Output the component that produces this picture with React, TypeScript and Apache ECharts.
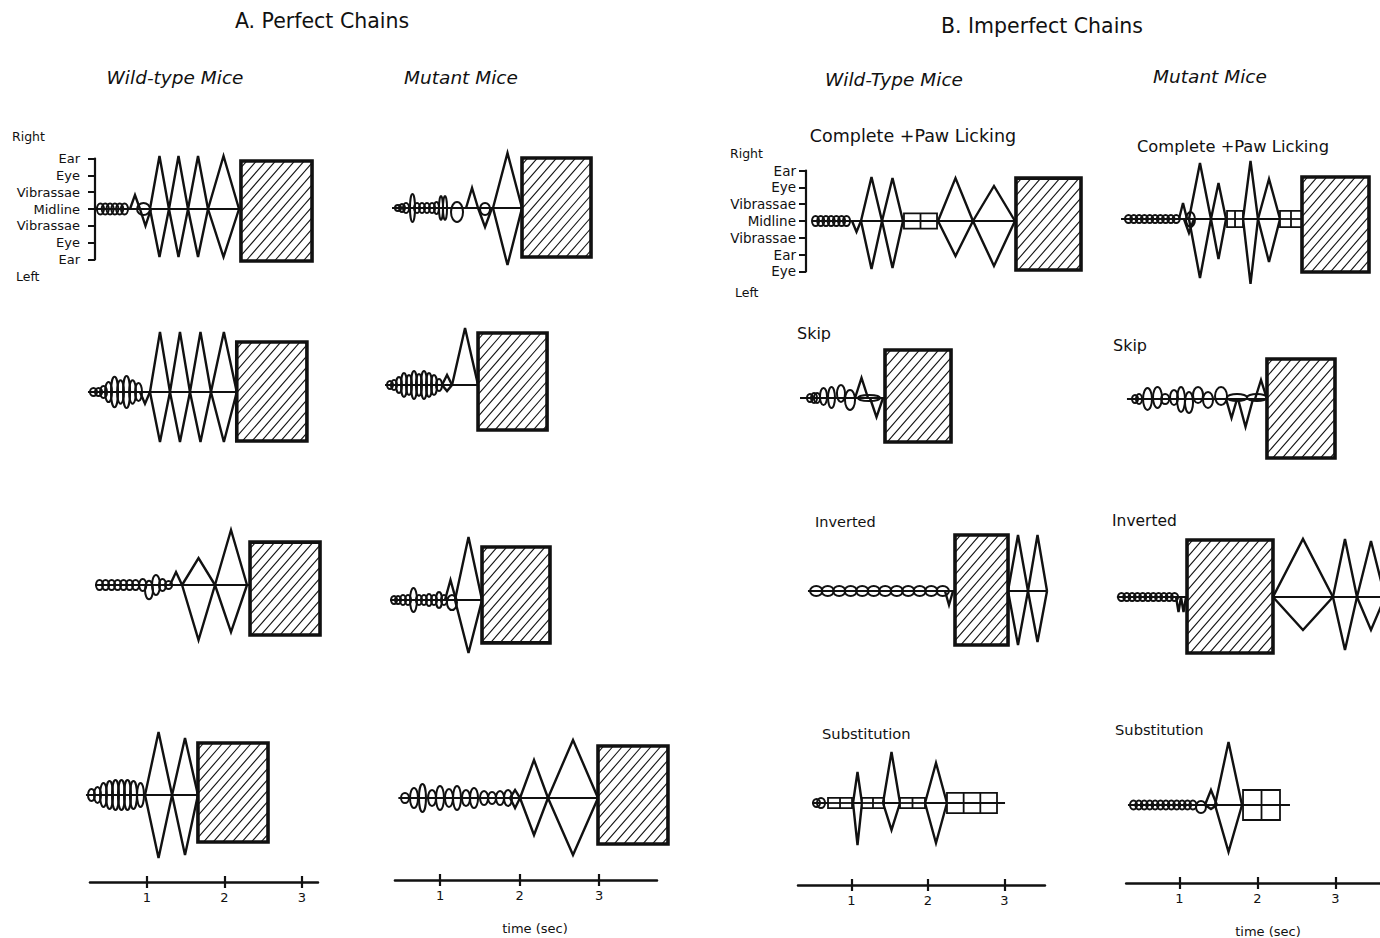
import React, { useEffect, useRef } from "react";
import * as echarts from "echarts";

// ---------- DATA (time in seconds, amplitudes in body-level units: 3 = Ear) ----------
// kinds: M = midline, L = loop (ellipse), T = flick triangle(s) up/down, R = grooming block (hatched), G = licking box grid
type Item = [string, number, number, number?, number?, number?];

const levelsA = ["Ear", "Eye", "Vibrassae", "Midline", "Vibrassae", "Eye", "Ear"];
const levelsB = ["Ear", "Eye", "Vibrassae", "Midline", "Vibrassae", "Ear", "Eye"];
const timeTicks = [1, 2, 3];

const perfectWild1: Item[] = [
  ["M", 0.332, 2.215],
  ["L", 0.357, 0.447, 0.33, 0.33], ["L", 0.419, 0.509, 0.33, 0.33], ["L", 0.481, 0.571, 0.33, 0.33],
  ["L", 0.543, 0.633, 0.33, 0.33], ["L", 0.605, 0.695, 0.33, 0.33], ["L", 0.667, 0.757, 0.33, 0.33],
  ["T", 0.783, 0.912, 0.83, 0],
  ["L", 0.874, 1.041, 0.36, 0.36],
  ["T", 0.912, 1.054, 0, 1.0],
  ["T", 1.041, 1.286, 3.15, 2.85], ["T", 1.286, 1.532, 3.15, 2.85],
  ["T", 1.532, 1.79, 3.15, 2.85], ["T", 1.79, 2.19, 3.15, 2.85],
  ["R", 2.215, 3.132, 2.85, 3.09],
];
const perfectWild2: Item[] = [
  ["M", 0.241, 2.161],
  ["L", 0.267, 0.357, 0.24, 0.24], ["L", 0.332, 0.423, 0.24, 0.24], ["L", 0.396, 0.487, 0.36, 0.36],
  ["L", 0.461, 0.551, 0.6, 0.6], ["L", 0.538, 0.629, 0.9, 0.9], ["L", 0.616, 0.706, 0.7, 0.7],
  ["L", 0.693, 0.784, 0.95, 0.95], ["L", 0.771, 0.861, 0.7, 0.7], ["L", 0.848, 0.938, 0.53, 0.53],
  ["T", 0.912, 1.041, 0, 0.7],
  ["T", 1.041, 1.299, 3.57, 2.97], ["T", 1.299, 1.557, 3.57, 2.97],
  ["T", 1.557, 1.828, 3.57, 2.97], ["T", 1.828, 2.161, 3.57, 2.97],
  ["R", 2.161, 3.066, 2.97, 2.91],
];
const perfectWild3: Item[] = [
  ["M", 0.332, 2.332],
  ["L", 0.345, 0.435, 0.3, 0.3], ["L", 0.423, 0.513, 0.3, 0.3], ["L", 0.501, 0.591, 0.3, 0.3],
  ["L", 0.578, 0.668, 0.3, 0.3], ["L", 0.655, 0.745, 0.3, 0.3], ["L", 0.733, 0.823, 0.3, 0.3],
  ["L", 0.81, 0.9, 0.3, 0.3],
  ["L", 0.901, 0.994, 0.36, 0.36], ["L", 0.977, 1.08, 0.25, 0.85], ["L", 1.067, 1.17, 0.6, 0.6],
  ["L", 1.157, 1.248, 0.36, 0.36], ["L", 1.235, 1.326, 0.24, 0.24],
  ["T", 1.299, 1.455, 0.77, 0],
  ["T", 1.455, 1.88, 1.6, 3.27], ["T", 1.88, 2.293, 3.27, 2.8],
  ["R", 2.332, 3.235, 2.55, 2.97],
];
const perfectWild4: Item[] = [
  ["M", 0.215, 1.66],
  ["L", 0.241, 0.331, 0.36, 0.36], ["L", 0.319, 0.409, 0.48, 0.48], ["L", 0.396, 0.486, 0.71, 0.71],
  ["L", 0.474, 0.564, 0.83, 0.83], ["L", 0.551, 0.641, 0.89, 0.89], ["L", 0.628, 0.718, 0.89, 0.89],
  ["L", 0.706, 0.796, 0.89, 0.89], ["L", 0.783, 0.873, 0.83, 0.83], ["L", 0.874, 0.964, 0.71, 0.71],
  ["T", 0.977, 1.326, 3.74, 3.74], ["T", 1.326, 1.66, 3.39, 3.57],
  ["R", 1.66, 2.564, 3.09, 2.79],
];

const perfectMutant1: Item[] = [
  ["M", 0.394, 2.029],
  ["L", 0.431, 0.507, 0.18, 0.18], ["L", 0.482, 0.557, 0.24, 0.24], ["L", 0.532, 0.608, 0.3, 0.3],
  ["L", 0.62, 0.683, 0.83, 0.83], ["L", 0.671, 0.746, 0.3, 0.3], ["L", 0.733, 0.809, 0.3, 0.3],
  ["L", 0.796, 0.871, 0.3, 0.3], ["L", 0.859, 0.935, 0.3, 0.3], ["L", 0.922, 0.985, 0.36, 0.36],
  ["L", 0.985, 1.035, 0.71, 0.71], ["L", 1.035, 1.086, 0.71, 0.71],
  ["L", 1.136, 1.287, 0.36, 0.83],
  ["T", 1.325, 1.476, 1.19, 0],
  ["L", 1.501, 1.627, 0.3, 0.42],
  ["T", 1.476, 1.652, 0, 1.13],
  ["T", 1.664, 2.029, 3.27, 3.39],
  ["R", 2.029, 2.897, 2.97, 2.91],
];
const perfectMutant2: Item[] = [
  ["M", 0.306, 1.476],
  ["L", 0.331, 0.406, 0.24, 0.24], ["L", 0.381, 0.457, 0.3, 0.3], ["L", 0.444, 0.519, 0.48, 0.48],
  ["L", 0.507, 0.582, 0.71, 0.71], ["L", 0.57, 0.645, 0.6, 0.6], ["L", 0.633, 0.708, 0.83, 0.83],
  ["L", 0.695, 0.771, 0.65, 0.65], ["L", 0.758, 0.834, 0.83, 0.83], ["L", 0.821, 0.897, 0.71, 0.71],
  ["L", 0.884, 0.96, 0.6, 0.6], ["L", 0.947, 1.023, 0.36, 0.36],
  ["T", 1.023, 1.149, 0.6, 0.36],
  ["T", 1.149, 1.476, 3.39, 0],
  ["R", 1.476, 2.344, 3.09, 2.67],
];
const perfectMutant3: Item[] = [
  ["M", 0.369, 1.526],
  ["L", 0.382, 0.457, 0.24, 0.24], ["L", 0.432, 0.507, 0.24, 0.24], ["L", 0.494, 0.57, 0.3, 0.3],
  ["L", 0.557, 0.633, 0.3, 0.3], ["L", 0.62, 0.708, 0.71, 0.71], ["L", 0.695, 0.771, 0.3, 0.3],
  ["L", 0.758, 0.834, 0.3, 0.3], ["L", 0.821, 0.897, 0.36, 0.36], ["L", 0.884, 0.96, 0.3, 0.3],
  ["L", 0.947, 1.023, 0.48, 0.48], ["L", 1.01, 1.085, 0.3, 0.3],
  ["T", 1.06, 1.199, 1.19, 0],
  ["L", 1.085, 1.211, 0.3, 0.6],
  ["T", 1.186, 1.526, 3.74, 3.15],
  ["R", 1.526, 2.381, 3.15, 2.55],
];
const perfectMutant4: Item[] = [
  ["M", 0.474, 2.985],
  ["L", 0.507, 0.607, 0.3, 0.3], ["L", 0.62, 0.721, 0.6, 0.6], ["L", 0.733, 0.821, 0.83, 0.83],
  ["L", 0.847, 0.947, 0.48, 0.48], ["L", 0.947, 1.048, 0.71, 0.71], ["L", 1.06, 1.161, 0.53, 0.53],
  ["L", 1.161, 1.262, 0.71, 0.71], ["L", 1.274, 1.375, 0.48, 0.48], ["L", 1.375, 1.476, 0.6, 0.6],
  ["L", 1.501, 1.602, 0.42, 0.42], ["L", 1.602, 1.702, 0.36, 0.36], ["L", 1.702, 1.803, 0.42, 0.42],
  ["L", 1.803, 1.903, 0.48, 0.48],
  ["T", 1.879, 2.004, 0.48, 0.6],
  ["T", 2.004, 2.356, 2.26, 2.2], ["T", 2.356, 2.985, 3.45, 3.39],
  ["R", 2.985, 3.865, 3.09, 2.73],
];

const completeWild: Item[] = [
  ["M", 0.484, 3.15],
  ["L", 0.484, 0.576, 0.3, 0.3], ["L", 0.552, 0.644, 0.3, 0.3], ["L", 0.62, 0.712, 0.3, 0.3],
  ["L", 0.688, 0.78, 0.3, 0.3], ["L", 0.756, 0.848, 0.3, 0.3], ["L", 0.824, 0.916, 0.3, 0.3],
  ["L", 0.889, 0.981, 0.3, 0.3],
  ["T", 1.007, 1.124, 0, 0.65],
  ["T", 1.124, 1.399, 2.61, 2.85], ["T", 1.399, 1.673, 2.55, 2.79],
  ["G", 1.686, 2.118, 0.45, 0.45, 2],
  ["T", 2.131, 2.588, 2.55, 2.08], ["T", 2.588, 3.137, 2.08, 2.67],
  ["R", 3.15, 4.0, 2.55, 2.91],
];
const skipWild: Item[] = [
  ["M", 0.327, 1.438],
  ["L", 0.418, 0.497, 0.24, 0.24], ["L", 0.471, 0.549, 0.3, 0.3], ["L", 0.51, 0.59, 0.3, 0.3],
  ["L", 0.588, 0.68, 0.6, 0.42], ["L", 0.693, 0.784, 0.65, 0.6], ["L", 0.81, 0.915, 0.77, 0.24],
  ["L", 0.915, 1.046, 0.48, 0.71],
  ["T", 1.046, 1.216, 1.19, 0],
  ["L", 1.085, 1.373, 0.18, 0.18],
  ["T", 1.242, 1.412, 0, 1.13],
  ["R", 1.438, 2.301, 2.85, 2.61],
];
const invertedWild: Item[] = [
  ["M", 0.431, 2.353],
  ["L", 0.458, 0.621, 0.3, 0.3], ["L", 0.608, 0.771, 0.3, 0.3], ["L", 0.758, 0.921, 0.3, 0.3],
  ["L", 0.908, 1.071, 0.3, 0.3], ["L", 1.059, 1.222, 0.3, 0.3], ["L", 1.209, 1.372, 0.3, 0.3],
  ["L", 1.359, 1.522, 0.3, 0.3], ["L", 1.51, 1.673, 0.3, 0.3], ["L", 1.66, 1.823, 0.3, 0.3],
  ["L", 1.81, 1.973, 0.3, 0.3], ["L", 1.961, 2.124, 0.3, 0.3], ["L", 2.111, 2.274, 0.3, 0.3],
  ["T", 2.222, 2.327, 0, 0.83],
  ["R", 2.353, 3.046, 3.33, 3.21],
  ["M", 3.046, 3.556],
  ["T", 3.046, 3.307, 3.33, 3.21], ["T", 3.307, 3.556, 3.33, 3.03],
];
const substitutionWild: Item[] = [
  ["M", 0.484, 3.007],
  ["L", 0.497, 0.588, 0.24, 0.24], ["L", 0.549, 0.654, 0.3, 0.3],
  ["G", 0.693, 1.007, 0.3, 0.3, 2],
  ["T", 1.02, 1.137, 1.84, 2.5],
  ["G", 1.137, 1.425, 0.3, 0.3, 2],
  ["T", 1.412, 1.634, 3.03, 1.6],
  ["G", 1.634, 1.961, 0.3, 0.3, 2],
  ["T", 1.961, 2.248, 2.38, 2.38],
  ["G", 2.248, 2.902, 0.6, 0.6, 3],
];

const completeMutant: Item[] = [
  ["M", 0.253, 2.573],
  ["L", 0.304, 0.394, 0.24, 0.24], ["L", 0.372, 0.462, 0.24, 0.24], ["L", 0.44, 0.53, 0.24, 0.24],
  ["L", 0.508, 0.598, 0.24, 0.24], ["L", 0.576, 0.666, 0.24, 0.24], ["L", 0.644, 0.734, 0.24, 0.24],
  ["L", 0.712, 0.802, 0.24, 0.24], ["L", 0.779, 0.869, 0.24, 0.24], ["L", 0.847, 0.937, 0.24, 0.24],
  ["L", 0.915, 1.005, 0.24, 0.24],
  ["T", 0.996, 1.099, 0.95, 0],
  ["L", 1.086, 1.201, 0.42, 0.48],
  ["T", 1.06, 1.188, 0, 0.83],
  ["T", 1.124, 1.406, 3.33, 3.51], ["T", 1.406, 1.599, 2.14, 2.38],
  ["G", 1.612, 1.817, 0.48, 0.48, 2],
  ["T", 1.817, 2.009, 3.45, 3.86], ["T", 2.009, 2.291, 2.38, 2.55],
  ["G", 2.291, 2.573, 0.48, 0.48, 2],
  ["R", 2.573, 3.432, 2.5, 3.15],
];
const skipMutant: Item[] = [
  ["M", 0.329, 2.137],
  ["L", 0.394, 0.471, 0.24, 0.24], ["L", 0.445, 0.522, 0.3, 0.3], ["L", 0.535, 0.65, 0.65, 0.65],
  ["L", 0.663, 0.778, 0.71, 0.53], ["L", 0.767, 0.87, 0.3, 0.3], ["L", 0.881, 0.983, 0.53, 0.36],
  ["L", 0.971, 1.073, 0.71, 0.77], ["L", 1.073, 1.176, 0.42, 0.83], ["L", 1.176, 1.304, 0.71, 0.24],
  ["L", 1.304, 1.432, 0.42, 0.53], ["L", 1.458, 1.612, 0.71, 0.36],
  ["L", 1.612, 1.868, 0.3, 0.12], ["L", 1.868, 2.124, 0.3, 0.12],
  ["T", 1.599, 1.74, 0, 1.13], ["T", 1.753, 1.945, 0, 1.66], ["T", 1.971, 2.124, 1.13, 0],
  ["R", 2.124, 2.996, 2.38, 3.51],
];
const invertedMutant: Item[] = [
  ["M", 0.2, 1.099],
  ["L", 0.214, 0.304, 0.24, 0.24], ["L", 0.282, 0.372, 0.24, 0.24], ["L", 0.35, 0.44, 0.24, 0.24],
  ["L", 0.418, 0.508, 0.24, 0.24], ["L", 0.486, 0.576, 0.24, 0.24], ["L", 0.554, 0.644, 0.24, 0.24],
  ["L", 0.622, 0.712, 0.24, 0.24], ["L", 0.69, 0.78, 0.24, 0.24], ["L", 0.758, 0.848, 0.24, 0.24],
  ["L", 0.826, 0.916, 0.24, 0.24], ["L", 0.894, 0.984, 0.24, 0.24],
  ["T", 0.958, 1.022, 0, 0.89], ["T", 1.022, 1.086, 0, 0.89],
  ["R", 1.099, 2.201, 3.39, 3.33],
  ["M", 2.201, 3.637],
  ["T", 2.201, 2.97, 3.45, 1.96], ["T", 2.97, 3.278, 3.45, 3.15], ["T", 3.278, 3.637, 3.33, 1.96],
];
const substitutionMutant: Item[] = [
  ["M", 0.342, 2.419],
  ["L", 0.368, 0.458, 0.27, 0.27], ["L", 0.437, 0.527, 0.27, 0.27], ["L", 0.506, 0.596, 0.27, 0.27],
  ["L", 0.576, 0.666, 0.27, 0.27], ["L", 0.645, 0.735, 0.27, 0.27], ["L", 0.714, 0.804, 0.27, 0.27],
  ["L", 0.783, 0.873, 0.27, 0.27], ["L", 0.853, 0.943, 0.27, 0.27], ["L", 0.922, 1.012, 0.27, 0.27],
  ["L", 0.991, 1.081, 0.27, 0.27], ["L", 1.06, 1.15, 0.27, 0.27], ["L", 1.129, 1.219, 0.27, 0.27],
  ["L", 1.214, 1.342, 0.24, 0.48],
  ["T", 1.329, 1.483, 0.89, 0.24],
  ["T", 1.458, 1.804, 3.74, 2.79],
  ["G", 1.817, 2.291, 0.89, 0.89, 2],
];

// ---------- LAYOUT ----------
const INK = "#111";
const FONT = "'DejaVu Sans', sans-serif";
const UNIT = 16.83; // px per body level
const COLS = [
  { origin: 69.3, scale: 77.5, min: 0.267, max: 3.209, axisY: 882 },
  { origin: 360.7, scale: 79.5, min: 0.431, max: 3.727, axisY: 880 },
  { origin: 775, scale: 76.5, min: 0.301, max: 3.529, axisY: 885 },
  { origin: 1101.3, scale: 78, min: 0.319, max: 3.6, axisY: 883 },
];
const PANELS: { col: number; midY: number; items: Item[]; levels?: string[]; axisT?: number; labelSize?: number; labelMargin?: number }[] = [
  { col: 0, midY: 209, items: perfectWild1, levels: levelsA, axisT: 0.3316, labelSize: 13, labelMargin: 15 },
  { col: 0, midY: 392, items: perfectWild2 },
  { col: 0, midY: 585, items: perfectWild3 },
  { col: 0, midY: 795, items: perfectWild4 },
  { col: 1, midY: 208, items: perfectMutant1 },
  { col: 1, midY: 385, items: perfectMutant2 },
  { col: 1, midY: 600, items: perfectMutant3 },
  { col: 1, midY: 798, items: perfectMutant4 },
  { col: 2, midY: 221, items: completeWild, levels: levelsB, axisT: 0.405, labelSize: 13.5, labelMargin: 10 },
  { col: 2, midY: 398, items: skipWild },
  { col: 2, midY: 591, items: invertedWild },
  { col: 2, midY: 803, items: substitutionWild },
  { col: 3, midY: 219, items: completeMutant },
  { col: 3, midY: 399, items: skipMutant },
  { col: 3, midY: 597, items: invertedMutant },
  { col: 3, midY: 805, items: substitutionMutant },
];

const TEXTS: { t: string; x: number; y: number; size: number; italic?: boolean; align?: string }[] = [
  { t: "A. Perfect Chains", x: 322, y: 21, size: 20.5 },
  { t: "B. Imperfect Chains", x: 1042, y: 26, size: 20.5 },
  { t: "Wild-type Mice", x: 175, y: 77, size: 18.5, italic: true },
  { t: "Mutant Mice", x: 461, y: 77, size: 18.5, italic: true },
  { t: "Wild-Type Mice", x: 894, y: 79, size: 18.5, italic: true },
  { t: "Mutant Mice", x: 1210, y: 76, size: 18.5, italic: true },
  { t: "Complete +Paw Licking", x: 913, y: 136, size: 17.5 },
  { t: "Complete +Paw Licking", x: 1233, y: 146, size: 16.3 },
  { t: "Skip", x: 797, y: 333, size: 16, align: "left" },
  { t: "Skip", x: 1113, y: 345, size: 16, align: "left" },
  { t: "Inverted", x: 815, y: 522, size: 14.5, align: "left" },
  { t: "Inverted", x: 1112, y: 521, size: 15.5, align: "left" },
  { t: "Substitution", x: 822, y: 733, size: 14.7, align: "left" },
  { t: "Substitution", x: 1115, y: 729, size: 14.7, align: "left" },
  { t: "time (sec)", x: 535, y: 928, size: 13 },
  { t: "time (sec)", x: 1268, y: 931, size: 13 },
  { t: "Right", x: 12, y: 136, size: 12.5, align: "left" },
  { t: "Left", x: 16, y: 276, size: 12.5, align: "left" },
  { t: "Right", x: 730, y: 153, size: 12.5, align: "left" },
  { t: "Left", x: 735, y: 292, size: 12.5, align: "left" },
];

const KIND: Record<string, number> = { M: 0, L: 1, T: 2, R: 3, G: 4 };

function renderItem(_params: any, api: any) {
  const t0 = api.value(0), t1 = api.value(1), top = api.value(2), bot = api.value(3);
  const kind = api.value(4), cells = api.value(5);
  const a = api.coord([t0, 0]);
  const b = api.coord([t1, 0]);
  const x0 = a[0], x1 = b[0], ym = a[1];
  const yT = api.coord([t0, top])[1];
  const yB = api.coord([t0, -bot])[1];
  const xm = (x0 + x1) / 2;
  if (kind === 0) {
    return { type: "line", shape: { x1: x0, y1: ym, x2: x1, y2: ym }, style: { stroke: INK, lineWidth: 2.2 } };
  }
  if (kind === 1) {
    return {
      type: "ellipse",
      shape: { cx: xm, cy: (yT + yB) / 2, rx: Math.max(0.5, (x1 - x0) / 2), ry: Math.max(0.5, (yB - yT) / 2) },
      style: { fill: "none", stroke: INK, lineWidth: 2 },
    };
  }
  if (kind === 2) {
    const children: any[] = [];
    if (top > 0) children.push({ type: "polyline", shape: { points: [[x0, ym], [xm, yT], [x1, ym]] }, style: { fill: "none", stroke: INK, lineWidth: 2.4, lineJoin: "miter" } });
    if (bot > 0) children.push({ type: "polyline", shape: { points: [[x0, ym], [xm, yB], [x1, ym]] }, style: { fill: "none", stroke: INK, lineWidth: 2.4, lineJoin: "miter" } });
    return { type: "group", children };
  }
  if (kind === 3) {
    const children: any[] = [
      { type: "rect", shape: { x: x0, y: yT, width: x1 - x0, height: yB - yT }, style: { fill: "#fff", stroke: null } },
    ];
    const k = 1.15, step = 11;
    for (let c = k * x0 + yT + step * 0.6; c < k * x1 + yB; c += step) {
      const xa = Math.max(x0, (c - yB) / k);
      const xb = Math.min(x1, (c - yT) / k);
      if (xb > xa) children.push({ type: "line", shape: { x1: xa, y1: c - k * xa, x2: xb, y2: c - k * xb }, style: { stroke: INK, lineWidth: 1.1 } });
    }
    children.push({ type: "rect", shape: { x: x0, y: yT, width: x1 - x0, height: yB - yT }, style: { fill: "none", stroke: INK, lineWidth: 3.6 } });
    return { type: "group", children };
  }
  // licking box grid
  const n = cells || 2;
  const children: any[] = [
    { type: "rect", shape: { x: x0, y: yT, width: x1 - x0, height: yB - yT }, style: { fill: "#fff", stroke: INK, lineWidth: 1.8 } },
    { type: "line", shape: { x1: x0, y1: ym, x2: x1, y2: ym }, style: { stroke: INK, lineWidth: 1.8 } },
  ];
  for (let i = 1; i < n; i++) {
    const x = x0 + ((x1 - x0) * i) / n;
    children.push({ type: "line", shape: { x1: x, y1: yT, x2: x, y2: yB }, style: { stroke: INK, lineWidth: 1.8 } });
  }
  return { type: "group", children };
}

function buildOption() {
  const grid: any[] = [];
  const xAxis: any[] = [];
  const yAxis: any[] = [];
  const series: any[] = [];

  PANELS.forEach((p, i) => {
    const c = COLS[p.col];
    const xmin = p.axisT ?? c.min;
    grid.push({ left: c.origin + xmin * c.scale, width: (c.max - xmin) * c.scale, top: p.midY - 3 * UNIT, height: 6 * UNIT, containLabel: false, outerBoundsMode: "none" });
    xAxis.push({ type: "value", gridIndex: i, min: xmin, max: c.max, show: false });
    if (p.levels) {
      const lv = p.levels;
      yAxis.push({
        type: "value", gridIndex: i, min: -3, max: 3, interval: 1, position: "left",
        axisLine: { show: true, lineStyle: { color: INK, width: 2.2 } },
        axisTick: { show: true, length: 7, lineStyle: { color: INK, width: 2 } },
        axisLabel: { formatter: (v: number) => lv[3 - Math.round(v)], fontSize: p.labelSize, color: INK, margin: p.labelMargin, fontFamily: FONT },
        splitLine: { show: false },
      });
    } else {
      yAxis.push({ type: "value", gridIndex: i, min: -3, max: 3, show: false });
    }
    series.push({
      type: "custom", xAxisIndex: i, yAxisIndex: i, clip: false, silent: true,
      renderItem,
      encode: { x: [0, 1], y: [2, 3] },
      data: p.items.map((it) => [it[1], it[2], it[3] ?? 0, it[4] ?? 0, KIND[it[0]], it[5] ?? 0]),
    });
  });

  const base = PANELS.length;
  COLS.forEach((c, j) => {
    const gi = base + j;
    grid.push({ left: c.origin + c.min * c.scale, width: (c.max - c.min) * c.scale, top: c.axisY - 20, height: 20, containLabel: false, outerBoundsMode: "none" });
    yAxis.push({ type: "value", gridIndex: gi, show: false });
  });
  COLS.forEach((c, j) => {
    const gi = base + j;
    xAxis.push({
      type: "value", gridIndex: gi, min: c.min, max: c.max, position: "bottom",
      axisLine: { show: true, lineStyle: { color: INK, width: 2.5 } },
      axisTick: { show: true, length: 6, customValues: timeTicks, lineStyle: { color: INK, width: 2.2 } },
      axisLabel: { show: true, customValues: timeTicks, fontSize: 13, color: INK, margin: 9, fontFamily: FONT },
      splitLine: { show: false },
    });
  });
  COLS.forEach((c, j) => {
    const gi = base + j;
    xAxis.push({
      type: "value", gridIndex: gi, min: c.min, max: c.max, position: "bottom",
      axisLine: { show: false },
      axisTick: { show: true, inside: true, length: 6, customValues: timeTicks, lineStyle: { color: INK, width: 2.2 } },
      axisLabel: { show: false },
      splitLine: { show: false },
    });
  });

  const graphic = TEXTS.map((t) => ({
    type: "text", x: t.x, y: t.y, silent: true,
    style: {
      text: t.t, fill: INK, fontSize: t.size, fontFamily: FONT, fontStyle: t.italic ? "italic" : "normal",
      textAlign: t.align ?? "center", align: t.align ?? "center", textVerticalAlign: "middle", verticalAlign: "middle",
    },
  }));

  return { animation: false, backgroundColor: "#fff", grid, xAxis, yAxis, series, graphic };
}

export default function App() {
  const ref = useRef<HTMLDivElement>(null);
  useEffect(() => {
    if (!ref.current) return;
    const chart = echarts.init(ref.current, undefined, { renderer: "svg" });
    chart.setOption(buildOption() as any);
    return () => chart.dispose();
  }, []);
  return <div ref={ref} style={{ position: "fixed", left: 0, top: 0, width: 1380, height: 938, background: "#fff" }} />;
}
